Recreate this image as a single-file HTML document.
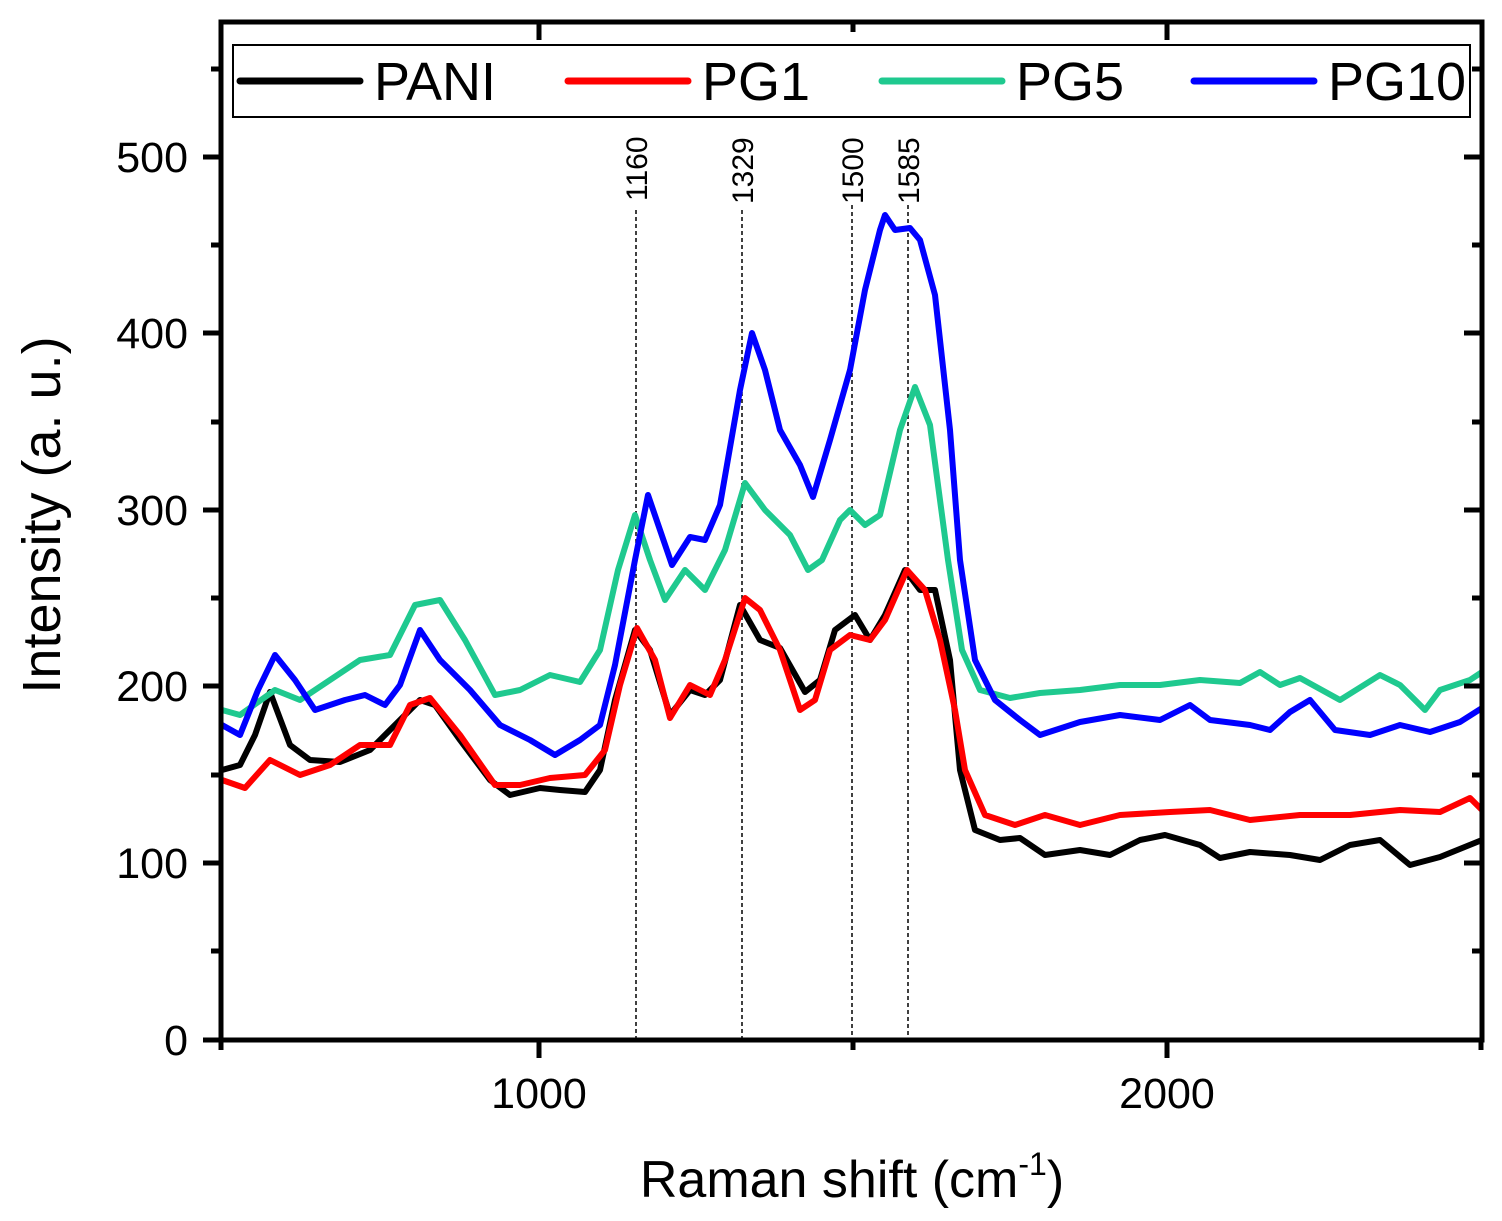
<!DOCTYPE html>
<html><head><meta charset="utf-8"><style>body{margin:0;background:#fff}svg{display:block}</style></head><body>
<svg width="1502" height="1221" viewBox="0 0 1502 1221" xmlns="http://www.w3.org/2000/svg" font-family="Liberation Sans, sans-serif">
<rect width="1502" height="1221" fill="#fff"/>
<g stroke="#000" stroke-width="1.5" stroke-dasharray="4,3">
<line x1="636" y1="210" x2="636" y2="1040"/><line x1="742" y1="210" x2="742" y2="1040"/>
<line x1="852" y1="205" x2="852" y2="1040"/><line x1="908" y1="205" x2="908" y2="1040"/>
</g>
<g font-size="30" fill="#000">
<text transform="translate(647,201) rotate(-90)">1160</text>
<text transform="translate(753,204) rotate(-90)">1329</text>
<text transform="translate(863,204) rotate(-90)">1500</text>
<text transform="translate(919,204) rotate(-90)">1585</text>
</g>
<g fill="none" stroke-width="6" stroke-linejoin="round">
<polyline stroke="#000" points="222,770 240,765 255,735 270,692 290,745 310,760 340,762 370,750 400,720 420,700 435,705 460,740 490,780 510,795 540,788 560,790 585,792 600,770 615,700 635,630 650,650 670,715 690,690 705,695 720,680 740,605 760,640 780,648 805,692 820,680 835,630 855,615 870,640 885,615 905,570 920,590 935,590 950,660 960,770 975,830 1000,840 1020,838 1045,855 1080,850 1110,855 1140,840 1165,835 1200,845 1220,858 1250,852 1290,855 1320,860 1350,845 1380,840 1410,865 1440,857 1482,840"/>
<polyline stroke="#ff0000" points="222,780 245,788 270,760 300,775 330,765 360,745 390,745 410,705 430,698 460,735 495,785 520,785 550,778 585,775 605,750 620,685 637,628 655,660 670,718 690,685 710,695 725,660 745,598 760,610 780,650 800,710 815,700 830,650 850,635 870,640 885,620 907,570 925,590 940,640 955,710 965,770 985,815 1015,825 1045,815 1080,825 1120,815 1170,812 1210,810 1250,820 1300,815 1350,815 1400,810 1440,812 1470,798 1482,810"/>
<polyline stroke="#1fc98f" points="222,710 240,715 275,690 300,700 330,680 360,660 390,655 415,605 440,600 465,640 495,695 520,690 550,675 580,682 600,650 618,570 635,515 650,560 665,600 685,570 705,590 725,550 745,483 765,510 790,535 808,570 822,560 840,520 850,510 865,525 880,515 900,430 915,387 930,425 948,560 962,650 980,690 1010,698 1040,693 1080,690 1120,685 1160,685 1200,680 1240,683 1260,672 1280,685 1300,678 1340,700 1380,675 1400,685 1425,710 1440,690 1470,680 1482,672"/>
<polyline stroke="#0000ff" points="222,725 240,735 258,690 275,655 295,680 315,710 345,700 365,695 385,705 400,685 420,630 440,660 470,690 500,725 530,740 555,755 580,740 600,725 615,665 635,560 648,495 660,530 672,565 690,537 705,540 720,505 740,390 752,333 765,370 780,430 800,465 813,497 830,440 850,370 865,290 880,230 885,215 895,230 910,228 920,240 935,295 950,430 960,560 975,660 995,700 1020,720 1040,735 1080,722 1120,715 1160,720 1190,705 1210,720 1250,725 1270,730 1290,712 1310,700 1335,730 1370,735 1400,725 1430,732 1460,722 1482,708"/>
</g>
<rect x="221" y="22" width="1261" height="1018" fill="none" stroke="#000" stroke-width="5"/>
<g stroke="#000" stroke-width="5">
<line x1="203" y1="157" x2="221" y2="157"/><line x1="203" y1="333" x2="221" y2="333"/><line x1="203" y1="510" x2="221" y2="510"/><line x1="203" y1="686" x2="221" y2="686"/><line x1="203" y1="863" x2="221" y2="863"/><line x1="203" y1="1040" x2="221" y2="1040"/>
<line x1="211" y1="69" x2="221" y2="69"/><line x1="211" y1="245" x2="221" y2="245"/><line x1="211" y1="422" x2="221" y2="422"/><line x1="211" y1="598" x2="221" y2="598"/><line x1="211" y1="775" x2="221" y2="775"/><line x1="211" y1="951" x2="221" y2="951"/>
<line x1="1482" y1="157" x2="1464" y2="157"/><line x1="1482" y1="333" x2="1464" y2="333"/><line x1="1482" y1="510" x2="1464" y2="510"/><line x1="1482" y1="686" x2="1464" y2="686"/><line x1="1482" y1="863" x2="1464" y2="863"/>
<line x1="1482" y1="69" x2="1472" y2="69"/><line x1="1482" y1="245" x2="1472" y2="245"/><line x1="1482" y1="422" x2="1472" y2="422"/><line x1="1482" y1="598" x2="1472" y2="598"/><line x1="1482" y1="775" x2="1472" y2="775"/><line x1="1482" y1="951" x2="1472" y2="951"/>
<line x1="539" y1="1040" x2="539" y2="1058"/><line x1="1167" y1="1040" x2="1167" y2="1058"/>
<line x1="221" y1="1040" x2="221" y2="1050"/><line x1="853" y1="1040" x2="853" y2="1050"/><line x1="1481" y1="1040" x2="1481" y2="1050"/>
<line x1="539" y1="22" x2="539" y2="40"/><line x1="1167" y1="22" x2="1167" y2="40"/><line x1="853" y1="22" x2="853" y2="32"/>
</g>
<g font-size="43" fill="#000" text-anchor="end">
<text x="188" y="172">500</text><text x="188" y="348">400</text><text x="188" y="525">300</text><text x="188" y="701">200</text><text x="188" y="878">100</text><text x="188" y="1055">0</text>
</g>
<g font-size="43" fill="#000" text-anchor="middle">
<text x="539" y="1108">1000</text><text x="1167" y="1108">2000</text>
</g>
<text x="852" y="1197" font-size="52" text-anchor="middle">Raman shift (cm<tspan font-size="32" dy="-22">-1</tspan><tspan dy="22">)</tspan></text>
<text transform="translate(60,515) rotate(-90)" font-size="54" text-anchor="middle">Intensity (a. u.)</text>
<rect x="233" y="45" width="1237" height="72" fill="#fff" stroke="#000" stroke-width="2"/>
<g stroke-width="7" stroke-linecap="round">
<line x1="240" y1="81" x2="360" y2="81" stroke="#000"/>
<line x1="568" y1="81" x2="688" y2="81" stroke="#ff0000"/>
<line x1="882" y1="81" x2="1002" y2="81" stroke="#1fc98f"/>
<line x1="1194" y1="81" x2="1314" y2="81" stroke="#0000ff"/>
</g>
<g font-size="54" fill="#000">
<text x="374" y="100">PANI</text><text x="702" y="100">PG1</text><text x="1016" y="100">PG5</text><text x="1328" y="100">PG10</text>
</g>
</svg>
</body></html>
